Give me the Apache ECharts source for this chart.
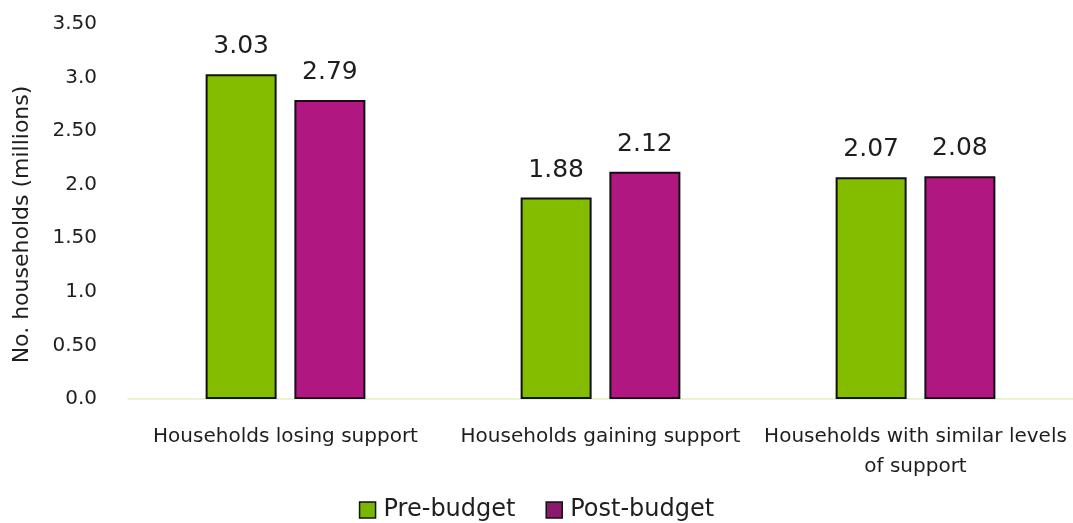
<!DOCTYPE html>
<html>
<head>
<meta charset="utf-8">
<script src="https://cdn.jsdelivr.net/npm/echarts@6/dist/echarts.min.js"></script>
<style>
  html, body { margin: 0; padding: 0; background: #fff; }
  #chart { width: 1073px; height: 523px; }
</style>
</head>
<body>
<div id="chart"></div>
<script>
// Household counts (millions) by change in support
const categories = ['Households losing support', 'Households gaining support', 'Households with similar levels\nof support'];
const preBudget = [3.03, 1.88, 2.07];
const postBudget = [2.79, 2.12, 2.08];
const yTickLabels = ['0.0', '0.50', '1.0', '1.50', '2.0', '2.50', '3.0', '3.50'];

const FONT = '"DejaVu Sans", "Noto Sans", sans-serif';
const TEXT = '#1e1e1e';
const chart = echarts.init(document.getElementById('chart'));

const valueLabel = {
  show: true,
  position: 'top',
  distance: 15,
  fontSize: 25,
  color: TEXT,
  formatter: (p) => p.value.toFixed(2)
};

chart.setOption({
  animation: false,
  textStyle: { fontFamily: FONT, color: TEXT },
  grid: { left: 128, right: 0, top: 24, bottom: 124 },
  legend: {
    bottom: -4,
    left: 'center',
    itemWidth: 16,
    itemHeight: 16,
    itemGap: 30,
    icon: 'rect',
    textStyle: { fontSize: 24, color: TEXT, fontFamily: FONT, padding: [0, 0, 0, 3] },
    data: [
      { name: 'Pre-budget', itemStyle: { color: '#7ab800', borderColor: '#111', borderWidth: 1.5 } },
      { name: 'Post-budget', itemStyle: { color: '#8c1a6c', borderColor: '#111', borderWidth: 1.5 } }
    ]
  },
  xAxis: {
    type: 'category',
    data: categories,
    axisLine: { lineStyle: { color: '#e3f1c6', width: 1.5 } },
    axisTick: { show: false },
    axisLabel: { fontSize: 20, color: TEXT, margin: 23, lineHeight: 30, interval: 0 }
  },
  yAxis: {
    type: 'value',
    min: 0,
    max: 3.5,
    interval: 0.5,
    name: 'No. households (millions)',
    nameLocation: 'middle',
    nameGap: 95,
    nameTextStyle: { fontSize: 22, color: TEXT, padding: [0, 26, 0, 0] },
    splitLine: { show: false },
    axisLine: { show: false },
    axisTick: { show: false },
    axisLabel: {
      fontSize: 20,
      color: TEXT,
      margin: 31,
      formatter: (v) => yTickLabels[Math.round(v / 0.5)]
    }
  },
  series: [
    {
      name: 'Pre-budget',
      type: 'bar',
      data: preBudget,
      barWidth: 71,
      barGap: '25%',
      itemStyle: { color: '#84bc00', borderColor: '#111', borderWidth: 2 },
      label: valueLabel
    },
    {
      name: 'Post-budget',
      type: 'bar',
      data: postBudget,
      barWidth: 71,
      itemStyle: { color: '#b01780', borderColor: '#111', borderWidth: 2 },
      label: valueLabel
    }
  ]
});
</script>
</body>
</html>
